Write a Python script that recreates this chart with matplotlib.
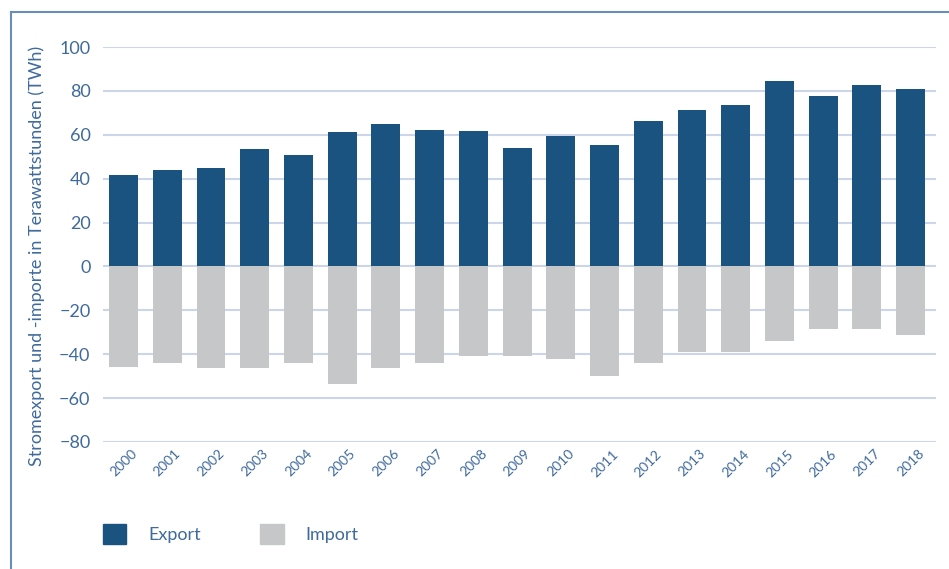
import matplotlib.pyplot as plt
from matplotlib.patches import Patch
from matplotlib.lines import Line2D

# Daten (TWh)
years = [str(y) for y in range(2000, 2019)]
export_twh = [41.6, 43.8, 44.7, 53.4, 50.7, 61.2, 64.8, 62.1, 61.6, 53.9,
              59.4, 55.3, 66.2, 71.2, 73.5, 84.5, 77.6, 82.6, 80.8]
import_twh = [-45.6, -43.8, -46.5, -46.5, -44.2, -53.5, -46.5, -44.2, -40.6, -41.0,
              -42.4, -50.1, -44.2, -39.2, -39.2, -34.2, -28.7, -28.7, -31.4]
y_ticks = [-80, -60, -40, -20, 0, 20, 40, 60, 80, 100]

EXPORT_COLOR = "#1a5280"
IMPORT_COLOR = "#c6c7c9"
TEXT_COLOR = "#3f6a9c"
GRID_COLOR = "#cdd6e8"
FRAME_COLOR = "#6a8db5"

plt.rcParams['font.family'] = ['Lato', 'DejaVu Sans']

fig = plt.figure(figsize=(9.49, 5.69), dpi=100)
ax = fig.add_axes([103 / 949, 127 / 569, 833 / 949, 395 / 569])

x = range(len(years))
ax.bar(x, export_twh, width=0.66, color=EXPORT_COLOR, zorder=2)
ax.bar(x, import_twh, width=0.66, color=IMPORT_COLOR, zorder=2)

ax.set_ylim(-80, 100)
ax.set_xlim(-0.47, 18.58)
ax.set_yticks(y_ticks)
ax.set_yticklabels([f"{v}".replace("-", "\u2212") for v in y_ticks])
ax.set_xticks(list(x))
ax.set_xticklabels(years, rotation=45, ha='center')

ax.tick_params(axis='y', length=0, pad=9, labelsize=13, labelcolor=TEXT_COLOR)
ax.tick_params(axis='x', length=0, pad=4, labelsize=10, labelcolor=TEXT_COLOR)
ax.grid(axis='y', color=GRID_COLOR, linewidth=1.5, zorder=0)
ax.set_axisbelow(True)
for s in ax.spines.values():
    s.set_visible(False)

fig.text(37 / 949, 1 - 256 / 569, "Stromexport und -importe in Terawattstunden (TWh)",
         rotation=90, ha='center', va='center', fontsize=13, color=TEXT_COLOR)

# Rahmen (links und oben)
fig.add_artist(Line2D([11 / 949, 11 / 949], [0, 1 - 12 / 569], color=FRAME_COLOR, linewidth=1.5))
fig.add_artist(Line2D([11 / 949, 1], [1 - 12 / 569, 1 - 12 / 569], color=FRAME_COLOR, linewidth=1.5))

handles = [Patch(color=EXPORT_COLOR, label="Export"), Patch(color=IMPORT_COLOR, label="Import")]
leg = fig.legend(handles=handles, loc='upper left', bbox_to_anchor=(103 / 949, 1 - 524 / 569),
                 ncol=2, frameon=False, fontsize=13, handlelength=1.3, handleheight=1.3,
                 handletextpad=1.2, columnspacing=3.3, borderpad=0, borderaxespad=0)
for t in leg.get_texts():
    t.set_color(TEXT_COLOR)

fig.savefig("out.png", dpi=100)
